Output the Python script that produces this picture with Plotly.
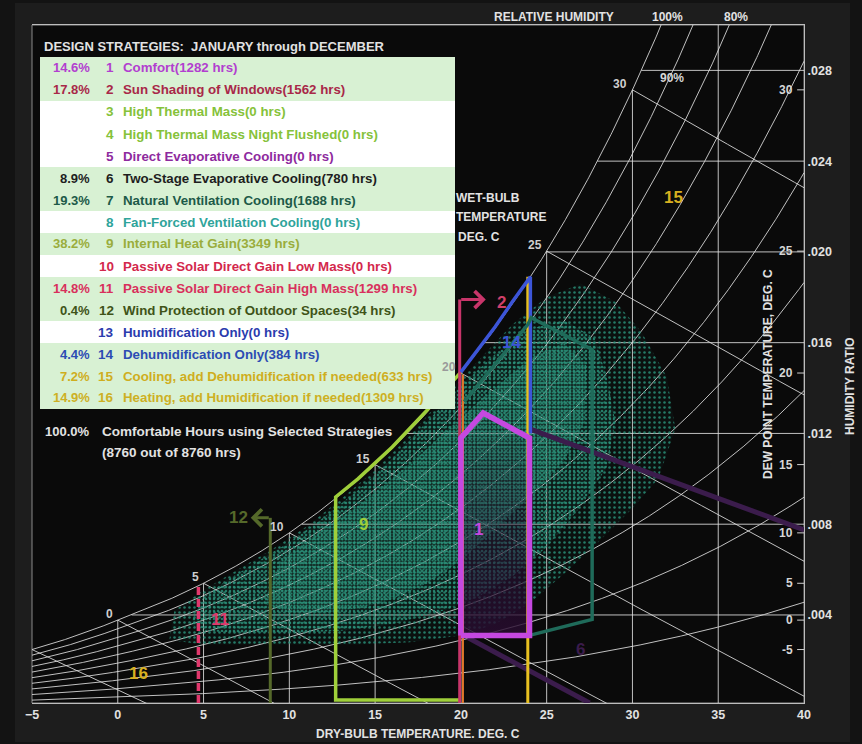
import numpy as np
import plotly.graph_objects as go

# ------------------------------------------------------------------ data
STRATEGY_NUM = list(range(1, 17))
STRATEGY_NAME = [
    "Comfort", "Sun Shading of Windows", "High Thermal Mass",
    "High Thermal Mass Night Flushed", "Direct Evaporative Cooling",
    "Two-Stage Evaporative Cooling", "Natural Ventilation Cooling",
    "Fan-Forced Ventilation Cooling", "Internal Heat Gain",
    "Passive Solar Direct Gain Low Mass", "Passive Solar Direct Gain High Mass",
    "Wind Protection of Outdoor Spaces", "Humidification Only",
    "Dehumidification Only", "Cooling, add Dehumidification if needed",
    "Heating, add Humidification if needed",
]
STRATEGY_HOURS = [1282, 1562, 0, 0, 0, 780, 1688, 0, 3349, 0, 1299, 34, 0, 384, 633, 1309]
STRATEGY_PCT = ["14.6%", "17.8%", "", "", "", "8.9%", "19.3%", "", "38.2%", "",
                "14.8%", "0.4%", "", "4.4%", "7.2%", "14.9%"]
STRATEGY_TEXT_COLOR = ["#b23fcf", "#a82848", "#86c23a", "#86c23a", "#8e2a9e", "#1e1e1e",
                       "#1d5a48", "#2fa49b", "#9aad3c", "#d3284c", "#d8305c", "#3f5418",
                       "#2b3cae", "#2c4cb4", "#cfae1e", "#cdb023"]
COMFORT_PCT = "100.0%"
COMFORT_TOTAL = 8760
TOTAL_HOURS = 8760

DRY_BULB_TICKS = [-5, 0, 5, 10, 15, 20, 25, 30, 35, 40]
HUMIDITY_TICKS = [0.004, 0.008, 0.012, 0.016, 0.020, 0.024, 0.028]
HUMIDITY_TICK_TEXT = [".004", ".008", ".012", ".016", ".020", ".024", ".028"]
DEW_POINT_TICKS = [-5, 0, 5, 10, 15, 20, 25, 30]
WET_BULB_LINES = [-5, 0, 5, 10, 15, 20, 25, 30]
WET_BULB_LABELS = [0, 5, 10, 15, 20, 25, 30]
RH_LINES = [0.1, 0.2, 0.3, 0.4, 0.5, 0.6, 0.7, 0.8, 0.9, 1.0]
DB_GRID = [0, 5, 10, 15, 20, 25, 30, 35]
W_GRID = [0.004, 0.008, 0.012, 0.016, 0.020, 0.024, 0.028]

# strategy boundaries (dry bulb deg C, humidity ratio)
COMFORT_T = [20.0, 20.0, 21.3, 24.0, 24.0, 20.0]
COMFORT_W = [0.0031, 0.0118, 0.0129, 0.0118, 0.0031, 0.0031]
SUNSHADE_T = [19.93, 19.93]
SUNSHADE_W = [0.00012, 0.0179]
SUNSHADE_ARROW_T = [19.93, 21.45]
SUNSHADE_ARROW_W = [0.0179, 0.0179]
ORANGE_T = [20.12, 20.12]
ORANGE_W = [0.00012, 0.0146]
HEATGAIN_T = [20.0, 12.7, 12.7, 14.0, 16.0, 18.0, 20.0]
HEATGAIN_W = [0.00025, 0.00025, 0.0092, 0.0100, 0.0114, 0.0130, 0.0147]
DEHUM_T = [20.0, 21.0, 22.0, 23.0, 24.05, 24.05]
DEHUM_W = [0.0147, 0.0157, 0.0167, 0.0178, 0.0189, 0.0120]
COOLING_T = [23.9, 23.9]
COOLING_W = [0.0189, 0.00012]
NATVENT_T = [20.2, 23.9, 24.1, 27.65, 27.65, 24.0]
NATVENT_W = [0.0134, 0.0168, 0.0171, 0.0157, 0.0038, 0.0031]
EVAP_UPPER_T = [24.0, 40.0]
EVAP_UPPER_W = [0.0122, 0.00775]
EVAP_LOWER_T = [20.4, 27.5]
EVAP_LOWER_W = [0.0030, 0.00012]
WIND_T = [8.89, 8.89]
WIND_W = [0.00012, 0.00828]
WIND_ARROW_T = [8.89, 7.75]
WIND_ARROW_W = [0.00828, 0.00828]
SOLAR_T = [4.7, 4.7]
SOLAR_W = [0.00012, 0.0054]

# zone number labels (T, W)
ZONE_LABEL = ["1", "2", "14", "15", "6", "9", "11", "12", "16"]
ZONE_LABEL_T = [21.04, 22.35, 22.96, 32.42, 26.99, 14.32, 5.97, 7.03, 1.19]
ZONE_LABEL_W = [0.00775, 0.01775, 0.0160, 0.0224, 0.00246, 0.0080, 0.00378, 0.00828, 0.00144]
ZONE_LABEL_COLOR = ["#c548e0", "#d0406a", "#3c55d8", "#d8b020", "#3b1c4c", "#9fcf3a",
                    "#e0386c", "#55692a", "#d8b020"]

# hourly weather cloud outlines (sparse, medium, dense)
CLOUD_OUTER_T = [3.0, 3.3, 5, 7, 9, 11, 13, 15, 17, 19, 21, 23, 25, 27, 29, 30.5, 32,
                 32.5, 31.5, 30, 28, 26, 24, 22, 20, 17, 14, 11, 8, 5]
CLOUD_OUTER_W = [0.0029, 0.0042, 0.0051, 0.0060, 0.0069, 0.0079, 0.0091, 0.0104, 0.0119,
                 0.0136, 0.0152, 0.0168, 0.0180, 0.0186, 0.0178, 0.0165, 0.0145,
                 0.0122, 0.0100, 0.0087, 0.0072, 0.0058, 0.0045, 0.0036,
                 0.0031, 0.0028, 0.0027, 0.0027, 0.0027, 0.0027]
CLOUD_MID_T = [4.2, 5, 6.5, 8, 10, 12, 14, 16, 18, 20, 22, 24, 26, 27.8, 28.5, 29, 28.5, 27,
               25, 23, 21, 19, 16, 13, 10, 7, 5]
CLOUD_MID_W = [0.0036, 0.0048, 0.0056, 0.0063, 0.0072, 0.0083, 0.0095, 0.0109, 0.0125,
               0.0141, 0.0155, 0.0166, 0.0170, 0.0162, 0.0145, 0.0125, 0.0105, 0.0088,
               0.0070, 0.0057, 0.0048, 0.0042, 0.0036, 0.0033, 0.0032, 0.0032, 0.0033]
CLOUD_CORE_T = [8.5, 9.5, 12, 14, 16, 18, 20, 22, 24, 26, 27.3, 27.2, 26, 24, 22, 20, 18,
                16, 14, 12, 10]
CLOUD_CORE_W = [0.0045, 0.0064, 0.0078, 0.0088, 0.0100, 0.0113, 0.0127, 0.0140, 0.0153,
                0.0160, 0.0150, 0.0125, 0.0108, 0.0092, 0.0078, 0.0064, 0.0054, 0.0047,
                0.0043, 0.0041, 0.0041]

# ------------------------------------------------------------------ psychrometrics
P_ATM = 101.325
X_RANGE = [-5, 40]
Y_RANGE = [0.00012, 0.0300]


def psat(t):
    t = np.asarray(t, dtype=float)
    water = 0.61094 * np.exp(17.625 * t / (t + 243.04))
    ice = 0.61115 * np.exp(22.452 * t / (272.55 + t))
    return np.where(t >= 0, water, ice)


def w_from_pw(pw):
    return 0.622 * pw / (P_ATM - pw)


def w_sat(t):
    return w_from_pw(psat(t))


def dew_point(w):
    pw = w * P_ATM / (0.622 + w)
    a = np.log(pw / 0.61094)
    return 243.04 * a / (17.625 - a)


def wb_line(twb, t):
    ws = w_sat(twb)
    if twb >= 0:
        return ((2501 - 2.326 * twb) * ws - 1.006 * (t - twb)) / (2501 + 1.86 * t - 4.186 * twb)
    return ((2830 - 0.24 * twb) * ws - 1.006 * (t - twb)) / (2830 + 1.86 * t - 2.1 * twb)


gx, gy = [], []
tt = np.linspace(-5, 40, 901)
for rh in RH_LINES:
    ww = w_from_pw(rh * psat(tt))
    gx += list(tt) + [None]
    gy += list(ww) + [None]
for t in DB_GRID:
    gx += [t, t, None]
    gy += [Y_RANGE[0], min(float(w_sat(t)), Y_RANGE[1]), None]
for w in W_GRID:
    gx += [float(dew_point(w)), 40, None]
    gy += [w, w, None]
for twb in WET_BULB_LINES:
    t = np.linspace(twb, 40, 400)
    w = wb_line(twb, t)
    keep = w >= 0
    gx += list(t[keep]) + [None]
    gy += list(w[keep]) + [None]

fig = go.Figure()
fig.add_trace(go.Scatter(x=gx, y=gy, mode="lines",
                         line=dict(color="rgba(225,225,225,0.85)", width=1), hoverinfo="skip"))

# dew point ticks on right edge
dtx, dty = [], []
for d in DEW_POINT_TICKS:
    wv = float(w_sat(d))
    dtx += [39.6, 40, None]
    dty += [wv, wv, None]
fig.add_trace(go.Scatter(x=dtx, y=dty, mode="lines", line=dict(color="#d0d0d0", width=1),
                         hoverinfo="skip"))

# weather cloud
for ct, cw, size, sol, bg in [
    (CLOUD_OUTER_T, CLOUD_OUTER_W, 5, 0.2, "rgba(30,110,95,0.07)"),
    (CLOUD_MID_T, CLOUD_MID_W, 4, 0.3, "rgba(30,120,100,0.10)"),
    (CLOUD_CORE_T, CLOUD_CORE_W, 3, 0.4, "rgba(35,130,110,0.10)"),
]:
    fig.add_trace(go.Scatter(
        x=ct + [ct[0]], y=cw + [cw[0]], mode="lines", fill="toself", line=dict(width=0),
        fillpattern=dict(shape=".", size=size, solidity=sol, fgcolor="#2a937c",
                         bgcolor=bg, fgopacity=0.8),
        hoverinfo="skip"))

# comfort zone shading
fig.add_trace(go.Scatter(
    x=COMFORT_T, y=COMFORT_W, mode="lines", fill="toself", line=dict(width=0),
    fillgradient=dict(type="vertical",
                      colorscale=[[0, "rgba(40,12,48,0.85)"], [0.55, "rgba(40,12,48,0.35)"],
                                  [1, "rgba(40,12,48,0.0)"]]),
    hoverinfo="skip"))


def line(x, y, color, width, dash="solid"):
    fig.add_trace(go.Scatter(x=x, y=y, mode="lines",
                             line=dict(color=color, width=width, dash=dash), hoverinfo="skip"))


line(EVAP_UPPER_T, EVAP_UPPER_W, "#3b1c4c", 5)
line(EVAP_LOWER_T, EVAP_LOWER_W, "#3b1c4c", 5)
line(HEATGAIN_T, HEATGAIN_W, "#9fcf3a", 3.5)
line(ORANGE_T, ORANGE_W, "#e07a2a", 2)
line(SUNSHADE_T, SUNSHADE_W, "#c8356a", 3)
line(COOLING_T, COOLING_W, "#e8c020", 3)
line(DEHUM_T, DEHUM_W, "#3c55d8", 3.5)
line(NATVENT_T, NATVENT_W, "#1f6b5a", 3.5)
line(WIND_T, WIND_W, "#55692a", 3)
line(SOLAR_T, SOLAR_W, "#e0386c", 3.5, dash="8px,4px")
line(COMFORT_T, COMFORT_W, "#c548e0", 5.5)

annotations = []
# arrows
annotations.append(dict(x=SUNSHADE_ARROW_T[1], y=SUNSHADE_ARROW_W[1], ax=SUNSHADE_ARROW_T[0],
                        ay=SUNSHADE_ARROW_W[0], xref="x", yref="y", axref="x", ayref="y",
                        text="", showarrow=True, arrowhead=4, arrowsize=1.1, arrowwidth=3,
                        arrowcolor="#c8356a"))
annotations.append(dict(x=WIND_ARROW_T[1], y=WIND_ARROW_W[1], ax=WIND_ARROW_T[0],
                        ay=WIND_ARROW_W[0], xref="x", yref="y", axref="x", ayref="y",
                        text="", showarrow=True, arrowhead=4, arrowsize=1.1, arrowwidth=3,
                        arrowcolor="#55692a"))

# zone labels
for lab, t, w, c in zip(ZONE_LABEL, ZONE_LABEL_T, ZONE_LABEL_W, ZONE_LABEL_COLOR):
    annotations.append(dict(x=t, y=w, xref="x", yref="y", text="<b>%s</b>" % lab,
                            showarrow=False, font=dict(size=17, color=c)))

FONT = "Liberation Sans, Arial, sans-serif"
GRAY = "#e2e2e2"

# wet bulb labels on saturation curve
for twb in WET_BULB_LABELS:
    annotations.append(dict(x=twb, y=float(w_sat(twb)), xref="x", yref="y",
                            text="<b>%d</b>" % twb, showarrow=False, xanchor="right",
                            yanchor="middle", xshift=-3, yshift=6,
                            font=dict(size=12, color="#cfcfcf" if twb != 20 else "#9a9a9a")))
# dew point labels
for d in DEW_POINT_TICKS:
    annotations.append(dict(x=40, y=float(w_sat(d)), xref="x", yref="y",
                            text="<b>%d</b>" % d, showarrow=False, xanchor="right",
                            yanchor="middle", xshift=-9,
                            font=dict(size=12, color="#d6d6d6")))
annotations.append(dict(x=32.3, y=0.02768, xref="x", yref="y", text="<b>90%</b>",
                        showarrow=False, font=dict(size=12, color="#d6d6d6")))

PX_L, PX_R, PX_T, PX_B = 32, 804, 25, 703


def px(xp):
    return (xp - PX_L) / (PX_R - PX_L)


def py(yp):
    return (PX_B - yp) / (PX_B - PX_T)


def ptext(xp, yp, text, size=12, color=GRAY, xanchor="left", angle=0):
    annotations.append(dict(x=px(xp), y=py(yp), xref="paper", yref="paper",
                            text="<b>%s</b>" % text, showarrow=False, xanchor=xanchor,
                            yanchor="middle", textangle=angle,
                            font=dict(size=size, color=color, family=FONT)))


ptext(554, 17, "RELATIVE HUMIDITY", xanchor="center")
ptext(667, 17, "100%", xanchor="center")
ptext(736, 17, "80%", xanchor="center")
ptext(418, 734, "DRY-BULB TEMPERATURE. DEG. C", xanchor="center")
ptext(768, 374, "DEW POINT TEMPERATURE, DEG. C", xanchor="center", angle=-90)
ptext(850, 386, "HUMIDITY RATIO", xanchor="center", angle=-90)
ptext(454, 198, "WET-BULB")
ptext(454, 217, "TEMPERATURE")
ptext(456, 237, "DEG. C")

# legend box
shapes = [
    dict(type="rect", xref="paper", yref="paper", x0=px(15), x1=px(850), y0=py(742), y1=py(3),
         fillcolor="#1d1d1d", line=dict(width=0), layer="below"),
    dict(type="rect", xref="paper", yref="paper", x0=0, x1=1, y0=0, y1=1,
         fillcolor="#0a0a0a", line=dict(color="#8a8a8a", width=1), layer="below"),
]
ptext(42, 46, "DESIGN STRATEGIES:  JANUARY through DECEMBER", size=13)
ROW_H = 22
ROW_TOP = 57
for i, (num, name, hrs, pct, col) in enumerate(zip(STRATEGY_NUM, STRATEGY_NAME, STRATEGY_HOURS,
                                                   STRATEGY_PCT, STRATEGY_TEXT_COLOR)):
    y0 = ROW_TOP + ROW_H * i
    shapes.append(dict(type="rect", xref="paper", yref="paper", x0=px(40), x1=px(455),
                       y0=py(y0 + ROW_H), y1=py(y0),
                       fillcolor="#d8f1d3" if hrs > 0 else "#ffffff",
                       line=dict(width=0), layer="above"))
    yc = y0 + ROW_H / 2
    if pct:
        ptext(92, yc, pct, size=13, color=col, xanchor="right")
    ptext(116, yc, str(num), size=13.5, color=col, xanchor="right")
    ptext(121, yc, "%s(%d hrs)" % (name, hrs), size=13.3, color=col)

ptext(92, 431, COMFORT_PCT, size=13, xanchor="right")
ptext(100, 431, "Comfortable Hours using Selected Strategies", size=13.5)
ptext(100, 452, "(%d out of %d hrs)" % (COMFORT_TOTAL, TOTAL_HOURS), size=13.5)

fig.update_layout(
    width=862, height=744,
    margin=dict(l=PX_L, r=862 - PX_R, t=PX_T, b=744 - PX_B),
    paper_bgcolor="#131313", plot_bgcolor="#0a0a0a",
    showlegend=False,
    font=dict(family=FONT, color=GRAY),
    xaxis=dict(range=X_RANGE, tickvals=DRY_BULB_TICKS, showgrid=False, zeroline=False,
               showline=True, linecolor="#bdbdbd", mirror=True, ticks="",
               tickfont=dict(size=12.5, color=GRAY, family=FONT, weight="bold")),
    yaxis=dict(range=Y_RANGE, side="right", tickvals=HUMIDITY_TICKS,
               ticktext=HUMIDITY_TICK_TEXT, showgrid=False, zeroline=False,
               showline=True, linecolor="#bdbdbd", ticks="",
               tickfont=dict(size=12.5, color=GRAY, family=FONT, weight="bold")),
    annotations=annotations,
    shapes=shapes,
)

fig.write_html("out.html", config={"displayModeBar": False},
               post_script="document.body.style.margin='0';"
                           "document.body.style.background='#131313';"
                           "document.body.style.overflow='hidden';")
